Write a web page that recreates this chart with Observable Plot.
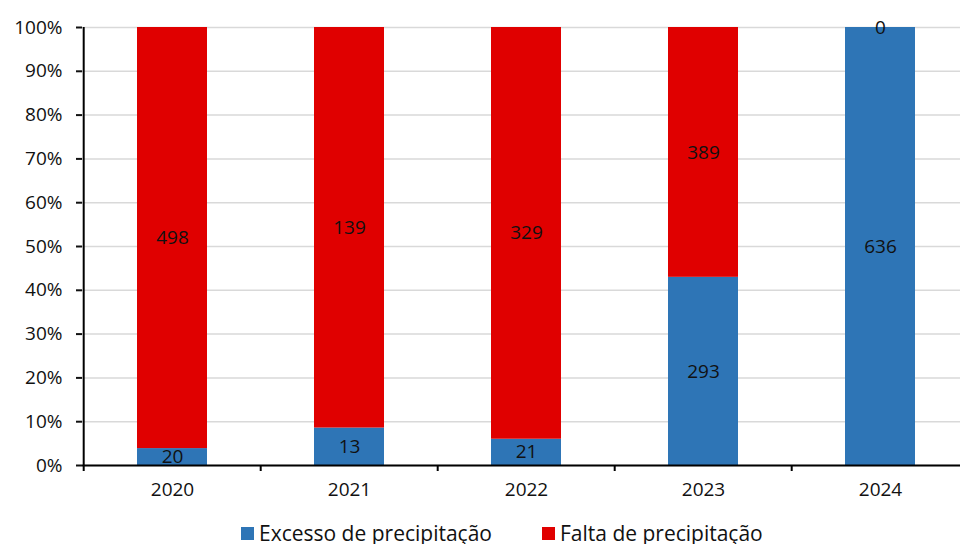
<!DOCTYPE html>
<html><head><meta charset="utf-8">
<script src="https://cdn.jsdelivr.net/npm/d3@7"></script>
<script src="https://cdn.jsdelivr.net/npm/@observablehq/plot@0.6"></script>
<style>
html,body{margin:0;padding:0;background:#fff;overflow:hidden;width:960px;height:544px;font-family:'Open Sans',sans-serif}
#chart{position:absolute;left:0;top:0}
#chart svg{max-width:none !important}
#legend{position:absolute;left:241px;top:520px;display:flex;align-items:center;font-size:21px;line-height:26px;color:#111;white-space:nowrap}
.item{display:flex;align-items:center;margin-right:50px}
.sw{width:13px;height:13px;margin-right:5px;display:inline-block}
</style></head><body><div id="chart"></div><div id="legend"></div>
<script>
const years = ["2020","2021","2022","2023","2024"];
const excesso = [20, 13, 21, 293, 636];
const falta = [498, 139, 329, 389, 0];
const seriesNames = ["Excesso de precipitação", "Falta de precipitação"];
const seriesColors = ["#2E75B6", "#E00000"];
const yTicks = [0, 0.1, 0.2, 0.3, 0.4, 0.5, 0.6, 0.7, 0.8, 0.9, 1];

const data = years.flatMap((yr, i) => [
  {year: yr, series: seriesNames[0], value: excesso[i]},
  {year: yr, series: seriesNames[1], value: falta[i]}
]);

const W = 970, H = 512, mL = 82, mR = 0, mT = 27, mB = 47;
const step = (W - mL - mR) / years.length;
const plotH = H - mT - mB;

const chart = Plot.plot({
  width: W, height: H,
  marginLeft: mL, marginRight: mR, marginTop: mT, marginBottom: mB,
  style: {fontFamily: "'Open Sans', sans-serif", fontSize: "18px", color: "#111", background: "#fff", overflow: "visible", maxWidth: "none"},
  x: {domain: years, paddingInner: 0.606, paddingOuter: 0.303, align: 0.5},
  y: {domain: [0, 1]},
  color: {domain: seriesNames, range: seriesColors},
  marks: [
    Plot.gridY(yTicks, {stroke: "#d9d9d9", strokeOpacity: 1, strokeWidth: 1.5}),
    Plot.barY(data, Plot.stackY({offset: "normalize", x: "year", y: "value", fill: "series"})),
    Plot.text(data, Plot.stackY({offset: "normalize", x: "year", y: "value", text: "value", fontSize: 19, fill: "#111"})),
    Plot.ruleY([0], {stroke: "#000", strokeWidth: 2}),
    Plot.ruleX([years[0]], {x: d => d, dx: -step / 2, y1: 0, y2: 1, stroke: "#000", strokeWidth: 2}),
    Plot.ruleX(years, {x: d => d, dx: -step / 2, y1: 0, y2: -6 / plotH, stroke: "#000", strokeWidth: 2}),
    Plot.axisY(yTicks, {tickFormat: d => Math.round(d * 100) + "%", tickSize: 6, tickPadding: 14, strokeWidth: 2, fontSize: 19, label: null}),
    Plot.axisX({tickSize: 0, tickPadding: 17, fontSize: 19, label: null})
  ]
});
document.getElementById("chart").appendChild(chart);

const legend = document.getElementById("legend");
seriesNames.forEach((name, i) => {
  const item = document.createElement("div");
  item.className = "item";
  const sw = document.createElement("span");
  sw.className = "sw";
  sw.style.background = seriesColors[i];
  const t = document.createElement("span");
  t.textContent = name;
  item.appendChild(sw); item.appendChild(t);
  legend.appendChild(item);
});
</script>
</body></html>
